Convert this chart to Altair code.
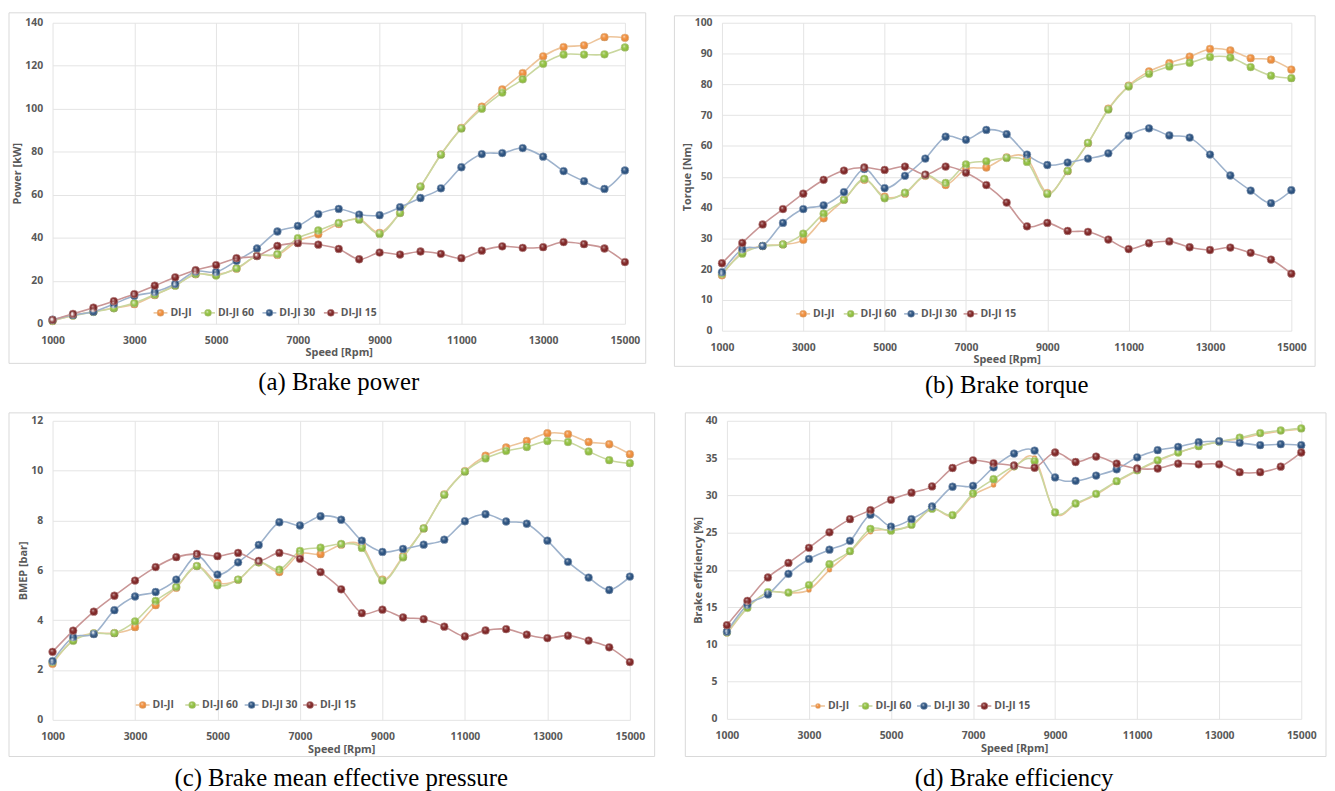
import altair as alt
import pandas as pd

speeds = list(range(1000, 15001, 500))
series_names = ["DI-JI", "DI-JI 60", "DI-JI 30", "DI-JI 15"]
marker_colors = ["#EE8A36", "#8DBE3A", "#254D7C", "#7C2020"]
line_colors = ["#EDC49A", "#C9D79E", "#9DB2CC", "#C99696"]

power_dijI = [1.3, 3.8, 5.7, 7.3, 9.1, 13.3, 17.8, 23.0, 22.8, 25.6, 31.5, 32.0, 38.5, 41.6, 46.4,
              48.7, 42.3, 51.6, 63.8, 78.8, 91.1, 101.0, 109.0, 116.6, 124.4, 128.7, 129.5, 133.3, 133.0]
power_60 = [1.4, 3.8, 5.5, 7.2, 9.6, 13.6, 17.7, 23.2, 22.4, 25.8, 31.6, 32.4, 39.8, 43.4, 46.9,
            48.4, 41.8, 51.5, 63.8, 78.6, 90.8, 100.0, 107.5, 113.7, 120.9, 125.2, 125.2, 125.3, 128.5]
power_30 = [1.9, 4.1, 5.6, 9.2, 13.0, 14.8, 18.5, 24.3, 24.1, 29.3, 35.0, 42.9, 45.5, 51.0, 53.4,
            50.8, 50.5, 54.2, 58.5, 63.0, 72.8, 78.9, 79.4, 81.7, 77.7, 71.0, 66.3, 62.7, 71.3]
power_15 = [1.8, 4.6, 7.5, 10.5, 13.8, 17.7, 21.6, 24.9, 27.3, 30.5, 31.5, 36.2, 37.5, 36.8, 34.8,
            30.0, 33.1, 32.2, 33.6, 32.5, 30.5, 34.0, 36.0, 35.3, 35.6, 38.0, 37.0, 35.0, 28.7]

torque_dijI = [18.0, 25.5, 27.5, 28.0, 29.5, 36.5, 42.5, 49.0, 43.5, 44.5, 50.3, 47.3, 52.5, 53.0, 56.3,
               56.0, 44.7, 51.8, 60.9, 72.1, 79.6, 84.2, 86.9, 89.0, 91.5, 91.0, 88.5, 88.0, 84.8]
torque_60 = [18.5, 25.0, 27.5, 28.0, 31.5, 38.0, 42.5, 49.3, 43.0, 44.8, 50.5, 48.0, 54.0, 55.0, 56.1,
             54.8, 44.4, 51.9, 61.0, 71.8, 79.3, 83.4, 85.8, 87.0, 88.9, 88.7, 85.6, 82.8, 82.0]
torque_30 = [19.0, 26.5, 27.5, 35.0, 39.5, 40.7, 45.0, 52.5, 46.3, 50.3, 55.9, 63.0, 62.0, 65.2, 63.8,
             57.2, 53.8, 54.6, 55.9, 57.6, 63.3, 65.7, 63.4, 62.7, 57.2, 50.4, 45.5, 41.4, 45.6]
torque_15 = [21.9, 28.5, 34.5, 39.5, 44.5, 49.0, 52.0, 53.0, 52.2, 53.3, 50.7, 53.3, 51.3, 47.3, 41.6,
             33.9, 35.0, 32.4, 32.1, 29.6, 26.5, 28.4, 29.0, 27.1, 26.2, 27.0, 25.3, 23.1, 18.5]

bmep_dijI = [2.25, 3.20, 3.47, 3.48, 3.72, 4.60, 5.30, 6.17, 5.50, 5.62, 6.32, 5.93, 6.66, 6.65, 7.03,
             6.99, 5.63, 6.57, 7.68, 9.05, 9.98, 10.60, 10.93, 11.19, 11.50, 11.46, 11.15, 11.06, 10.66]
bmep_60 = [2.32, 3.17, 3.47, 3.48, 3.95, 4.77, 5.34, 6.17, 5.40, 5.63, 6.32, 6.03, 6.78, 6.91, 7.06,
           6.90, 5.59, 6.52, 7.68, 9.03, 9.96, 10.49, 10.79, 10.95, 11.19, 11.15, 10.77, 10.42, 10.30]
bmep_30 = [2.36, 3.32, 3.44, 4.40, 4.95, 5.13, 5.63, 6.58, 5.83, 6.32, 7.02, 7.93, 7.80, 8.17, 8.03,
           7.19, 6.74, 6.86, 7.03, 7.23, 7.97, 8.25, 7.96, 7.87, 7.19, 6.34, 5.71, 5.21, 5.75]
bmep_15 = [2.73, 3.58, 4.34, 4.98, 5.59, 6.13, 6.53, 6.66, 6.57, 6.70, 6.38, 6.70, 6.46, 5.93, 5.24,
           4.28, 4.42, 4.11, 4.04, 3.74, 3.35, 3.59, 3.64, 3.42, 3.28, 3.38, 3.18, 2.91, 2.32]

eff_dijI = [11.4, 14.9, 17.0, 16.9, 17.3, 20.0, 22.4, 25.1, 25.4, 25.9, 28.2, 27.2, 30.0, 31.4, 33.7,
            35.0, 27.6, 28.8, 30.1, 31.8, 33.3, 34.6, 35.7, 36.6, 37.2, 37.6, 38.2, 38.6, 38.9]
eff_60 = [11.6, 14.9, 17.0, 16.95, 17.96, 20.75, 22.5, 25.5, 25.26, 26.06, 28.2, 27.35, 30.27, 32.17, 33.9,
          34.6, 27.7, 28.9, 30.2, 31.9, 33.36, 34.7, 35.75, 36.6, 37.2, 37.74, 38.36, 38.7, 38.98]
eff_30 = [11.7, 15.3, 16.7, 19.47, 21.46, 22.7, 23.9, 27.4, 25.8, 26.8, 28.5, 31.15, 31.28, 33.76, 35.6,
          36.0, 32.4, 31.95, 32.65, 33.5, 35.1, 36.06, 36.5, 37.12, 37.26, 37.04, 36.73, 36.86, 36.73]
eff_15 = [12.57, 15.84, 18.98, 20.93, 22.96, 25.04, 26.8, 28.0, 29.4, 30.35, 31.2, 33.67, 34.7, 34.3, 34.0,
          33.7, 35.75, 34.47, 35.2, 34.25, 33.6, 33.6, 34.25, 34.16, 34.16, 33.1, 33.1, 33.85, 35.75]

x_ticks = [1000, 3000, 5000, 7000, 9000, 11000, 13000, 15000]

FONT = "Open Sans"

HIGHLIGHT = {
    "gradient": "radial",
    "x1": 0.38, "y1": 0.32, "r1": 0.0,
    "x2": 0.5, "y2": 0.5, "r2": 0.55,
    "stops": [
        {"offset": 0.0, "color": "rgba(255,255,255,0.75)"},
        {"offset": 0.3, "color": "rgba(255,255,255,0.18)"},
        {"offset": 0.65, "color": "rgba(255,255,255,0)"},
        {"offset": 1.0, "color": "rgba(0,0,0,0.22)"},
    ],
}


def make_df(series_lists):
    rows = []
    for name, vals in zip(series_names, series_lists):
        for s, v in zip(speeds, vals):
            rows.append({"speed": s, "value": v, "series": name})
    return pd.DataFrame(rows)


def legend_layers(centers, cy, small_first):
    """Key drawn inside the plot area: short line, sphere marker and label per series."""
    layers = []
    one = alt.Data(values=[{}])
    for i, name in enumerate(series_names):
        cx = centers[i]
        sz = 26 if (small_first and i == 0) else 50
        layers.append(
            alt.Chart(one).mark_rule(color=line_colors[i], strokeWidth=1.6).encode(
                x=alt.value(cx - 7), x2=alt.value(cx + 7), y=alt.value(cy))
        )
        layers.append(
            alt.Chart(one).mark_point(filled=True, opacity=1, size=sz, color=marker_colors[i],
                                      stroke=line_colors[i], strokeWidth=0.6).encode(
                x=alt.value(cx), y=alt.value(cy))
        )
        layers.append(
            alt.Chart(one).mark_point(filled=True, opacity=1, size=sz, fill=HIGHLIGHT,
                                      strokeWidth=0).encode(
                x=alt.value(cx), y=alt.value(cy))
        )
        layers.append(
            alt.Chart(one).mark_text(text=name, align="left", baseline="middle", font=FONT,
                                     fontWeight="bold", fontSize=10.5, color="#595959").encode(
                x=alt.value(cx + 10), y=alt.value(cy))
        )
    return layers


def make_panel(series_lists, ytitle, ymax, ystep, caption, w, h, leg_centers, leg_y,
               border, cap_offset, small_first=False):
    df = make_df(series_lists)
    base = alt.Chart(df)
    x = alt.X("speed:Q", scale=alt.Scale(domain=[1000, 15000], nice=False, zero=False),
              axis=alt.Axis(values=x_ticks, title="Speed [Rpm]", format="d", labelFlush=False))
    y = alt.Y("value:Q", scale=alt.Scale(domain=[0, ymax], nice=False),
              axis=alt.Axis(values=list(range(0, ymax + 1, ystep)), title=ytitle))
    stroke_scale = alt.Scale(domain=series_names, range=line_colors)
    fill_scale = alt.Scale(domain=series_names, range=marker_colors)
    if small_first:
        size_enc = alt.condition(alt.datum.series == "DI-JI", alt.value(26), alt.value(62))
    else:
        size_enc = alt.value(62)

    lines = base.mark_line(interpolate="cardinal", strokeWidth=1.6).encode(
        x=x, y=y,
        stroke=alt.Stroke("series:N", scale=stroke_scale, legend=None),
    )
    points = base.mark_point(filled=True, opacity=1, strokeWidth=0.6).encode(
        x=x, y=y,
        color=alt.Color("series:N", scale=fill_scale, legend=None),
        stroke=alt.Stroke("series:N", scale=stroke_scale, legend=None),
        size=size_enc,
    )
    shine = base.mark_point(filled=True, opacity=1, fill=HIGHLIGHT, strokeWidth=0).encode(
        x=x, y=y, size=size_enc,
    )
    bl, br, bt, bb = border
    frame = alt.Chart(alt.Data(values=[{}])).mark_rect(
        fillOpacity=0, stroke="#D9D9D9", strokeWidth=1
    ).encode(
        x=alt.value(bl), x2=alt.value(w + br), y=alt.value(bt), y2=alt.value(h + bb)
    )
    layers = [frame, lines, points, shine] + legend_layers(leg_centers, leg_y, small_first)
    return alt.layer(*layers).properties(
        width=w, height=h,
        title=alt.TitleParams(
            text=caption, orient="bottom", anchor="middle", font="Liberation Serif",
            fontSize=25, fontWeight="normal", color="#000000", offset=cap_offset,
        ),
    )


def independent(ch):
    return ch.resolve_scale(
        color="independent", stroke="independent", x="independent", y="independent",
    )


pa = make_panel([power_dijI, power_60, power_30, power_15], "Power [kW]", 140, 20,
                "(a) Brake power", 578, 304, [109, 157, 219, 281], 293,
                (-44, 21, -10, 40), 6)
pb = make_panel([torque_dijI, torque_60, torque_30, torque_15], "Torque [Nm]", 100, 10,
                "(b) Brake torque", 575, 311, [82, 130, 191, 251], 294,
                (-48, 24, -7, 36), 6)
pc = make_panel([bmep_dijI, bmep_60, bmep_30, bmep_15], "BMEP [bar]", 12, 2,
                "(c) Brake mean effective pressure", 583, 302, [91, 141, 201, 260], 287,
                (-44, 25, -8, 37), 9)
pd_ = make_panel([eff_dijI, eff_60, eff_30, eff_15], "Brake efficiency [%]", 40, 5,
                 "(d) Brake efficiency", 580, 301, [92, 140, 199, 260], 288,
                 (-42, 25, -8, 38), 9, small_first=True)

top = independent(alt.hconcat(pa, pb, spacing=27))
bottom = independent(alt.hconcat(pc, pd_, spacing=29))

chart = independent(alt.vconcat(top, bottom, spacing=14)).configure(
    padding=0, background="white",
).configure_view(
    stroke=None
).configure_axis(
    domain=False, ticks=False, gridColor="#E4E4E4", gridWidth=1,
    labelFont=FONT, labelFontWeight="bold", labelFontSize=10.5, labelColor="#595959",
    titleFont=FONT, titleFontWeight="bold", titleFontSize=11, titleColor="#595959",
).configure_axisY(
    labelPadding=10, titlePadding=2,
).configure_axisX(
    labelPadding=12, titlePadding=1,
)

chart.save("out.html", embed_options={"renderer": "svg", "actions": False})
